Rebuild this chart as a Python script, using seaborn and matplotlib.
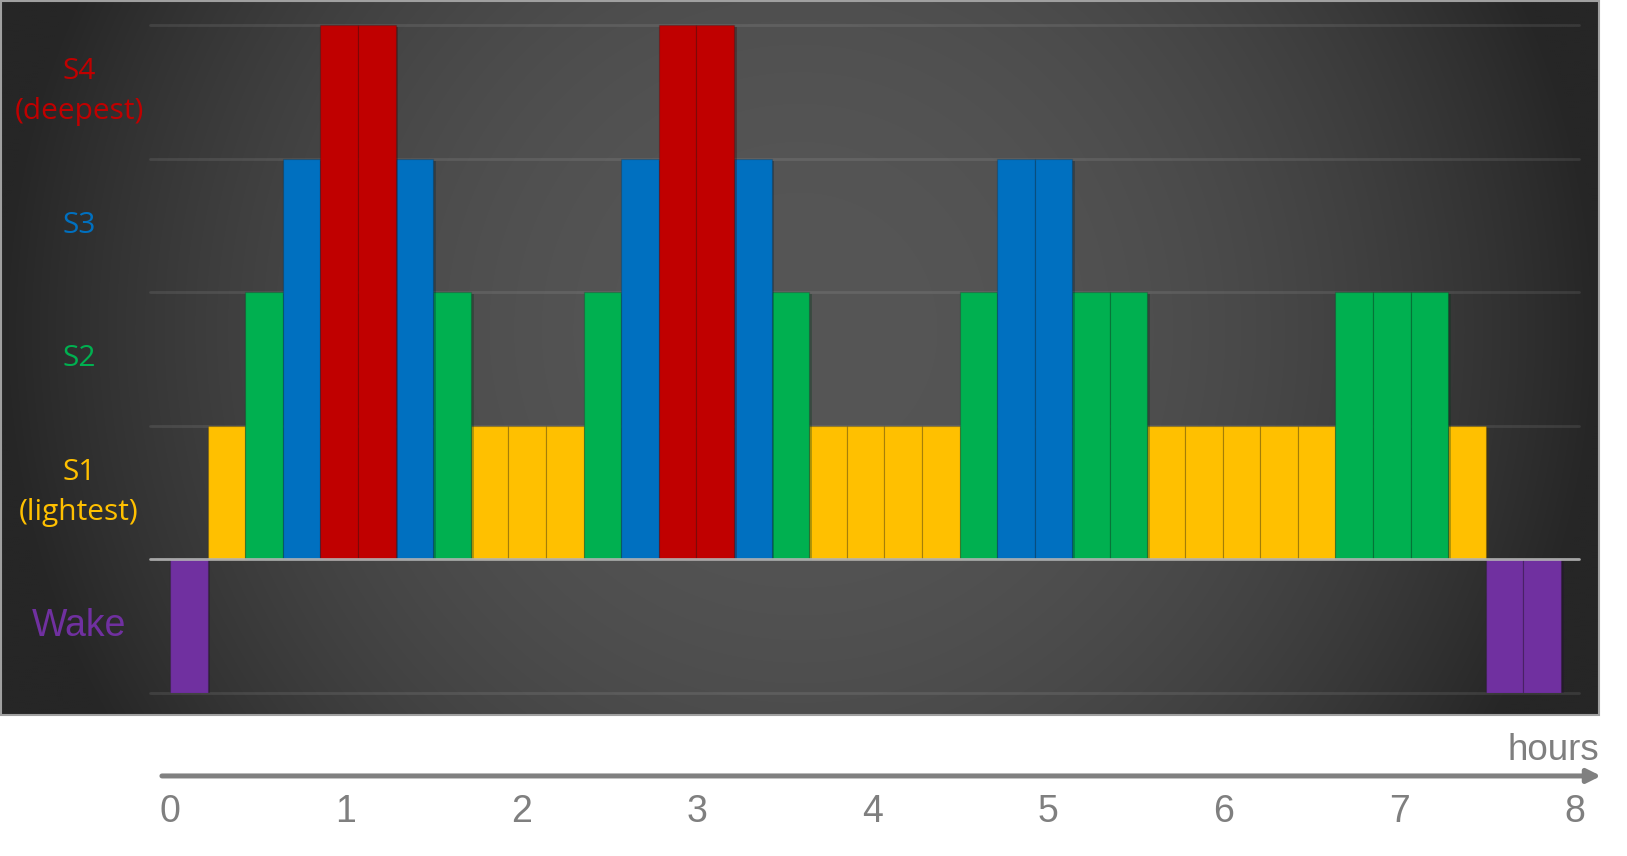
import numpy as np
import pandas as pd
import matplotlib
matplotlib.use("Agg")
import matplotlib.pyplot as plt
import seaborn as sns
from matplotlib import transforms, patheffects
from matplotlib.patches import Rectangle

# ---------------- data ----------------
stage_sequence = ["Wake", "S1", "S2", "S3", "S4", "S4", "S3", "S2", "S1", "S1",
                  "S1", "S2", "S3", "S4", "S4", "S3", "S2", "S1", "S1", "S1",
                  "S1", "S2", "S3", "S3", "S2", "S2", "S1", "S1", "S1", "S1",
                  "S1", "S2", "S2", "S2", "S1", "Wake", "Wake"]
stage_names = ["Wake", "S1", "S2", "S3", "S4"]
stage_levels = [-1, 1, 2, 3, 4]
stage_colors = ["#7030A0", "#FFC000", "#00B050", "#0070C0", "#C00000"]
epoch_hours = 0.2141          # length of one scored epoch (hours)
hour_ticks = [0, 1, 2, 3, 4, 5, 6, 7, 8]
label_texts = ["S4\n(deepest)", "S3", "S2", "S1\n(lightest)", "Wake"]
label_levels = [3.5, 2.5, 1.5, 0.5, -0.5]
label_colors = ["#C00000", "#0070C0", "#00B050", "#FFC000", "#7030A0"]

level_of = dict(zip(stage_names, stage_levels))
palette = dict(zip(stage_names, stage_colors))
df = pd.DataFrame({
    "t": [(i + 0.5) * epoch_hours for i in range(len(stage_sequence))],
    "stage": stage_sequence,
})
df["level"] = df["stage"].map(level_of)

# ---------------- figure ----------------
sns.set_theme(style="white")
plt.rcParams["font.family"] = ["Open Sans", "DejaVu Sans"]

W, H = 1627, 856
fig = plt.figure(figsize=(W / 100, H / 100), dpi=100)
fig.patch.set_facecolor("white")

# background panel with radial-ish gradient
bg = fig.add_axes([0, 0, 1, 1], zorder=0)
bg.set_xlim(0, W)
bg.set_ylim(H, 0)
bg.axis("off")
X, Y = np.meshgrid(np.linspace(1, 1599, 800), np.linspace(1, 715, 360))
dx = (X - 800) / 800
dy = (Y - 330) / 360 * 0.45
r = np.clip(np.sqrt(dx ** 2 + dy ** 2), 0, 1)
val = (86 - 48 * r ** 2.2) / 255.0
img = np.dstack([val, val, val])
bg.imshow(img, extent=(1, 1599, 715, 1), aspect="auto", interpolation="bilinear")
bg.add_patch(Rectangle((1, 1), 1598, 714, fill=False, edgecolor="#a0a0a0", lw=1.5))

# main axes
x0 = (150 - 170) / 175.6
x1 = (1579 - 170) / 175.6
ax = fig.add_axes([150 / W, (H - 693) / H, (1579 - 150) / W, (693 - 25) / H], zorder=1)
ax.set_facecolor("none")
ax.patch.set_visible(False)

sns.barplot(data=df, x="t", y="level", hue="stage", palette=palette,
            hue_order=stage_names, native_scale=True, width=1.0, dodge=False,
            errorbar=None, legend=False, saturation=1,
            edgecolor=(0, 0, 0, 0.16), linewidth=0.9, ax=ax)

for p in ax.patches:
    p.set_path_effects([patheffects.SimplePatchShadow(offset=(2, -1.5), alpha=0.3),
                        patheffects.Normal()])
    p.set_zorder(2)

ax.set_xlim(x0, x1)
ax.set_ylim(-1, 4)
for sp in ax.spines.values():
    sp.set_visible(False)
ax.set_xticks([])
ax.set_yticks([])
ax.set_xlabel("")
ax.set_ylabel("")
ax.grid(False)

for lv in stage_levels:
    ax.axhline(lv, color=(1, 1, 1, 0.09), lw=2.0, zorder=0.5, clip_on=False)
ax.axhline(0, color="#b4b4b4", lw=2.0, zorder=5, clip_on=False, alpha=0.9)

# stage labels
lab_tr = transforms.blended_transform_factory(fig.transFigure, ax.transData)
for txt, lv, col in zip(label_texts, label_levels, label_colors):
    if txt == "Wake":
        ax.text(79 / W, lv, txt, transform=lab_tr, ha="center", va="center",
                fontsize=27, color=col, family=["Liberation Sans", "DejaVu Sans"])
    else:
        ax.text(79 / W, lv, txt, transform=lab_tr, ha="center", va="center",
                fontsize=21.5, color=col, linespacing=1.5, multialignment="center")

# bottom time axis with arrow
ax_x = fig.add_axes([150 / W, (H - 776) / H, (1579 - 150) / W, 0.0001], zorder=1)
ax_x.set_facecolor("none")
ax_x.patch.set_visible(False)
ax_x.set_xlim(x0, x1)
ax_x.set_ylim(0, 1)
for sp in ax_x.spines.values():
    sp.set_visible(False)
ax_x.set_yticks([])
ax_x.set_xticks(hour_ticks)
ax_x.set_xticklabels([str(h) for h in hour_ticks],
                     family=["Liberation Sans", "DejaVu Sans"])
ax_x.tick_params(axis="x", length=0, pad=13.3, labelsize=27, labelcolor="#7f7f7f")

ax_x.annotate("", xy=(8.149, 0.5), xytext=(-0.046, 0.5),
              xycoords="data", textcoords="data", annotation_clip=False,
              arrowprops=dict(arrowstyle="-|>,head_length=0.4,head_width=0.2",
                              mutation_scale=20, lw=3.6, color="#808080",
                              shrinkA=0, shrinkB=0))

hours_tr = transforms.blended_transform_factory(ax_x.transData, fig.transFigure)
ax_x.text((1599 - 170) / 175.6, (H - 750) / H, "hours", transform=hours_tr,
          ha="right", va="center", fontsize=26.5, color="#7f7f7f",
          family=["Liberation Sans", "DejaVu Sans"])

fig.savefig("out.png", dpi=100)
